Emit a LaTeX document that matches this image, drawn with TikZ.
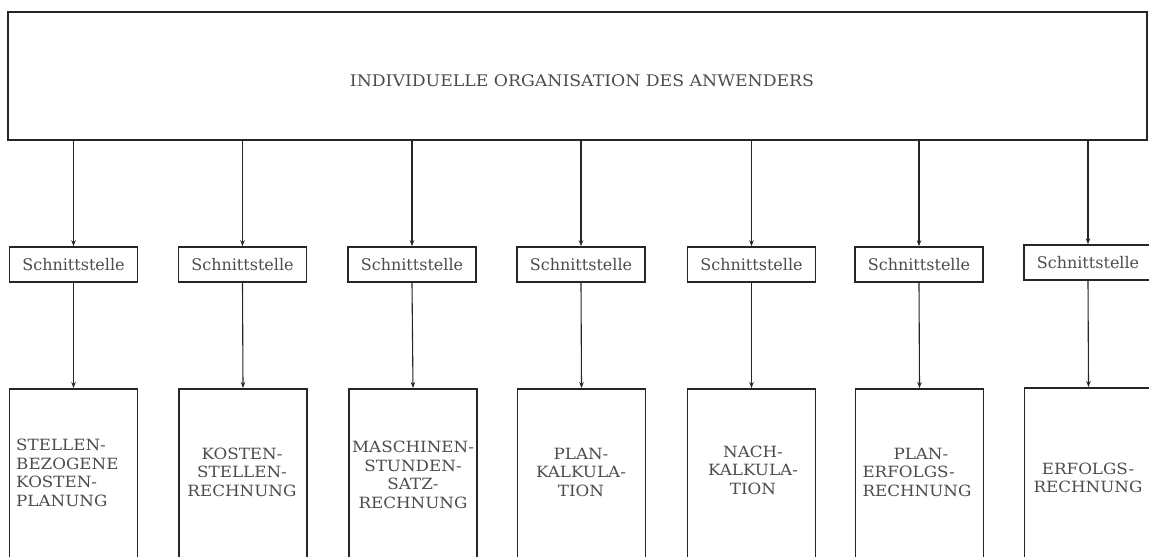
\documentclass[tikz,border=0pt]{standalone}
\usepackage{fontspec}
\setmainfont{DejaVu Serif}
\newfontfamily\typew[FakeStretch=1.08]{DejaVu Serif}
\usetikzlibrary{arrows.meta}
\begin{document}
\begin{tikzpicture}[x=1pt,y=-1pt,
  frame/.style={draw=black!85, line width=1.8pt},
  topbox/.style={frame, minimum width=1139pt, minimum height=128pt, inner sep=0pt},
  toptext/.style={font=\typew\fontsize{16}{18}\selectfont, text=black!70, inner sep=0pt},
  iface/.style={frame, line width=1.6pt, minimum width=128pt, minimum height=35pt, inner sep=0pt, font=\fontsize{16}{18}\selectfont, text=black!70},
  fbox/.style={frame, minimum width=128pt, minimum height=172pt, inner sep=0pt, anchor=north},
  flabel/.style={font=\typew\fontsize{15.5}{18.5}\selectfont, text=black!70, align=center, inner sep=0pt},
  conn/.style={draw=black!85, line width=1.1pt, -{Stealth[length=6pt,width=4.5pt]}}
]
\useasboundingbox (0,0) rectangle (1149,557);
\clip (0,0) rectangle (1149,557);

% top box
\node[topbox] (top) at (577.5,76) {};
\node[toptext] (toptxt) at (582,81) {INDIVIDUELLE ORGANISATION DES ANWENDERS};

% interfaces
\node[iface] (s1) at (73.5,264.5) {Schnittstelle};
\node[iface] (s2) at (242.5,264.5) {Schnittstelle};
\node[iface] (s3) at (412,264.5) {Schnittstelle};
\node[iface] (s4) at (581,264.5) {Schnittstelle};
\node[iface] (s5) at (751.5,264.5) {Schnittstelle};
\node[iface] (s6) at (919,264.5) {Schnittstelle};
\node[iface] (s7) at (1088,262.5) {Schnittstelle};

% function boxes (cut off at the bottom)
\node[fbox] (b1) at (73.5,388) {};
\node[fbox] (b2) at (243,388) {};
\node[fbox] (b3) at (413,388) {};
\node[fbox] (b4) at (581.5,388) {};
\node[fbox] (b5) at (751.5,388) {};
\node[fbox] (b6) at (919.5,388) {};
\node[fbox] (b7) at (1088.5,387) {};

% labels
\node[flabel, align=left, anchor=west] (l1) at (16,473) {STELLEN-\\BEZOGENE\\KOSTEN-\\PLANUNG};
\node[flabel] (l2) at (242,472) {KOSTEN-\\STELLEN-\\RECHNUNG};
\node[flabel] (l3) at (413,475) {MASCHINEN-\\STUNDEN-\\SATZ-\\RECHNUNG};
\node[flabel] (l4) at (581,472) {PLAN-\\KALKULA-\\TION};
\node[flabel] (l5) at (753,470) {NACH-\\KALKULA-\\TION};
\node[flabel, align=left] (l6) at (917,472) {\hspace*{2em}PLAN-\\ERFOLGS-\\RECHNUNG};
\node[flabel] (l7) at (1088,478) {ERFOLGS-\\RECHNUNG};

% connectors
\foreach \i in {1,...,7}{
  \draw[conn] (top.south -| s\i.north) -- (s\i.north);
  \draw[conn] (s\i.south) -- (b\i.north);
}
\end{tikzpicture}
\end{document}
